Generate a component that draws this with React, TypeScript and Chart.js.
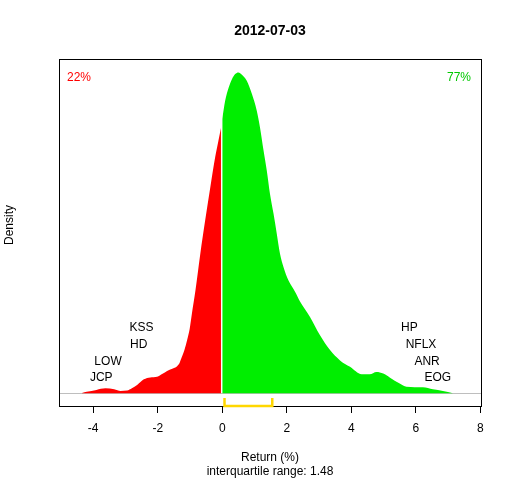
import React, { useEffect, useRef } from "react";
import { Chart, registerables } from "chart.js";

Chart.register(...registerables);

// ---- data ----
const titleText = "2012-07-03";
const xTicks = [-4, -2, 0, 2, 4, 6, 8];
const xMin = -5.06;
const xMax = 8.02;
const densityPeak = 0.4;

// density below zero (losers)
const negReturns = [-4.35, -4.2, -3.9, -3.62, -3.35, -3.15, -2.95, -2.8, -2.64, -2.43, -2.23, -2.02, -1.85, -1.71, -1.55, -1.4, -1.32, -1.25, -1.17, -1.09, -1.01, -0.94, -0.83, -0.68, -0.53, -0.37, -0.22, -0.12, -0.04];
const negDensity = [0, 0.0016, 0.004, 0.006, 0.0048, 0.0028, 0.0032, 0.006, 0.01, 0.0172, 0.0196, 0.0204, 0.024, 0.0276, 0.0304, 0.0336, 0.038, 0.0452, 0.054, 0.066, 0.08, 0.0992, 0.128, 0.1736, 0.2148, 0.2564, 0.2936, 0.314, 0.33];

// density above zero (winners)
const posReturns = [0, 0.09, 0.2, 0.3, 0.4, 0.5, 0.61, 0.76, 0.92, 1.07, 1.17, 1.28, 1.38, 1.48, 1.59, 1.69, 1.79, 1.9, 2.05, 2.26, 2.41, 2.72, 3.03, 3.34, 3.65, 3.96, 4.32, 4.57, 4.78, 4.99, 5.19, 5.5, 5.71, 6.22, 6.53, 6.84, 7.15];
const posDensity = [0.3412, 0.364, 0.3804, 0.3908, 0.3972, 0.3992, 0.3964, 0.3888, 0.3724, 0.3516, 0.3308, 0.302, 0.2772, 0.248, 0.2232, 0.1984, 0.1736, 0.1568, 0.1404, 0.126, 0.114, 0.0948, 0.072, 0.0536, 0.0408, 0.0328, 0.0236, 0.0236, 0.0264, 0.0244, 0.0196, 0.012, 0.008, 0.0072, 0.0048, 0.0028, 0];

const pctDown = "22%";
const pctUp = "77%";

const q1 = 0.07;
const q3 = 1.55;
const iqrText = "interquartile range: 1.48";

const leftNames = ["KSS", "HD", "LOW", "JCP"];
const leftReturns = [-2.5, -2.59, -3.54, -3.75];
const rightNames = ["HP", "NFLX", "ANR", "EOG"];
const rightReturns = [5.8, 6.16, 6.35, 6.68];
const labelLevels = [0.0814, 0.0602, 0.0393, 0.0193];

// ---- styles ----
const RED = "#FF0000";
const GREEN = "#00EE00";
const GREEN_TEXT = "#00C800";
const GOLD = "#FFD700";
const FONT = "'Liberation Sans', Arial, Helvetica, sans-serif";

const yMin = -0.04 * densityPeak;
const yMax = 1.04 * densityPeak;

export default function App() {
  const ref = useRef<HTMLCanvasElement | null>(null);

  useEffect(() => {
    document.body.style.margin = "0";
    const canvas = ref.current;
    if (!canvas) return;

    const decor = {
      id: "decor",
      beforeDatasetsDraw(chart: any) {
        const { ctx, chartArea: a, scales } = chart;
        const y0 = scales.y.getPixelForValue(0);
        ctx.save();
        ctx.strokeStyle = "#BEBEBE";
        ctx.lineWidth = 1;
        ctx.beginPath();
        ctx.moveTo(a.left, Math.round(y0) + 0.5);
        ctx.lineTo(a.right, Math.round(y0) + 0.5);
        ctx.stroke();
        ctx.strokeStyle = "#000";
        ctx.strokeRect(Math.round(a.left) + 0.5, Math.round(a.top) + 0.5, Math.round(a.right - a.left), Math.round(a.bottom - a.top));
        ctx.restore();
      },
      afterDraw(chart: any) {
        const { ctx, chartArea: a, scales } = chart;
        const xs = scales.x;
        const ys = scales.y;
        ctx.save();
        // title
        ctx.fillStyle = "#000";
        ctx.textAlign = "center";
        ctx.textBaseline = "middle";
        ctx.font = `bold 14px ${FONT}`;
        ctx.fillText(titleText, (a.left + a.right) / 2, 31);
        // y label
        ctx.font = `12px ${FONT}`;
        ctx.save();
        ctx.translate(10, 225);
        ctx.rotate(-Math.PI / 2);
        ctx.fillText("Density", 0, 0);
        ctx.restore();
        // percentages
        ctx.textAlign = "left";
        ctx.fillStyle = RED;
        ctx.fillText(pctDown, a.left + 8, a.top + 19);
        ctx.textAlign = "right";
        ctx.fillStyle = GREEN_TEXT;
        ctx.fillText(pctUp, a.right - 10, a.top + 19);
        // stock labels
        ctx.textAlign = "center";
        ctx.fillStyle = "#000";
        leftNames.forEach((n, i) => {
          ctx.fillText(n, xs.getPixelForValue(leftReturns[i]), ys.getPixelForValue(labelLevels[i]));
        });
        rightNames.forEach((n, i) => {
          ctx.fillText(n, xs.getPixelForValue(rightReturns[i]), ys.getPixelForValue(labelLevels[i]));
        });
        ctx.restore();
      },
    };

    const bracketTop = yMin * 0.38;

    const chart = new Chart(canvas, {
      type: "line",
      data: {
        datasets: [
          {
            data: negReturns.map((x, i) => ({ x, y: negDensity[i] })),
            borderWidth: 0,
            borderColor: RED,
            backgroundColor: RED,
            fill: "origin",
            pointRadius: 0,
            cubicInterpolationMode: "monotone",
          },
          {
            data: posReturns.map((x, i) => ({ x, y: posDensity[i] })),
            borderWidth: 0,
            borderColor: GREEN,
            backgroundColor: GREEN,
            fill: "origin",
            pointRadius: 0,
            cubicInterpolationMode: "monotone",
          },
          {
            data: [
              { x: q1, y: bracketTop },
              { x: q1, y: yMin },
              { x: q3, y: yMin },
              { x: q3, y: bracketTop },
            ],
            borderWidth: 2.5,
            borderColor: GOLD,
            fill: false,
            pointRadius: 0,
            tension: 0,
            clip: false,
          } as any,
        ],
      },
      options: {
        animation: false,
        responsive: true,
        maintainAspectRatio: false,
        layout: { padding: { left: 59, right: 31, top: 59, bottom: 0 } },
        plugins: { legend: { display: false }, tooltip: { enabled: false }, title: { display: false } },
        scales: {
          x: {
            type: "linear",
            min: xMin,
            max: xMax,
            afterBuildTicks: (scale: any) => {
              scale.ticks = xTicks.map((v) => ({ value: v }));
            },
            afterFit: (scale: any) => {
              scale.height = 74;
            },
            grid: { drawOnChartArea: false, drawTicks: true, tickLength: 7, color: "#000", lineWidth: 1 },
            border: { display: false },
            ticks: { color: "#000", font: { family: FONT, size: 12 }, padding: 8, maxRotation: 0 },
            title: {
              display: true,
              text: ["Return (%)", iqrText],
              color: "#000",
              font: { family: FONT, size: 12 },
              padding: { top: 0, bottom: 1 },
            },
          },
          y: {
            display: false,
            min: yMin,
            max: yMax,
          },
        },
      },
      plugins: [decor],
    });

    return () => chart.destroy();
  }, []);

  return (
    <div style={{ width: 512, height: 480, position: "relative", background: "#fff" }}>
      <canvas ref={ref} />
    </div>
  );
}
